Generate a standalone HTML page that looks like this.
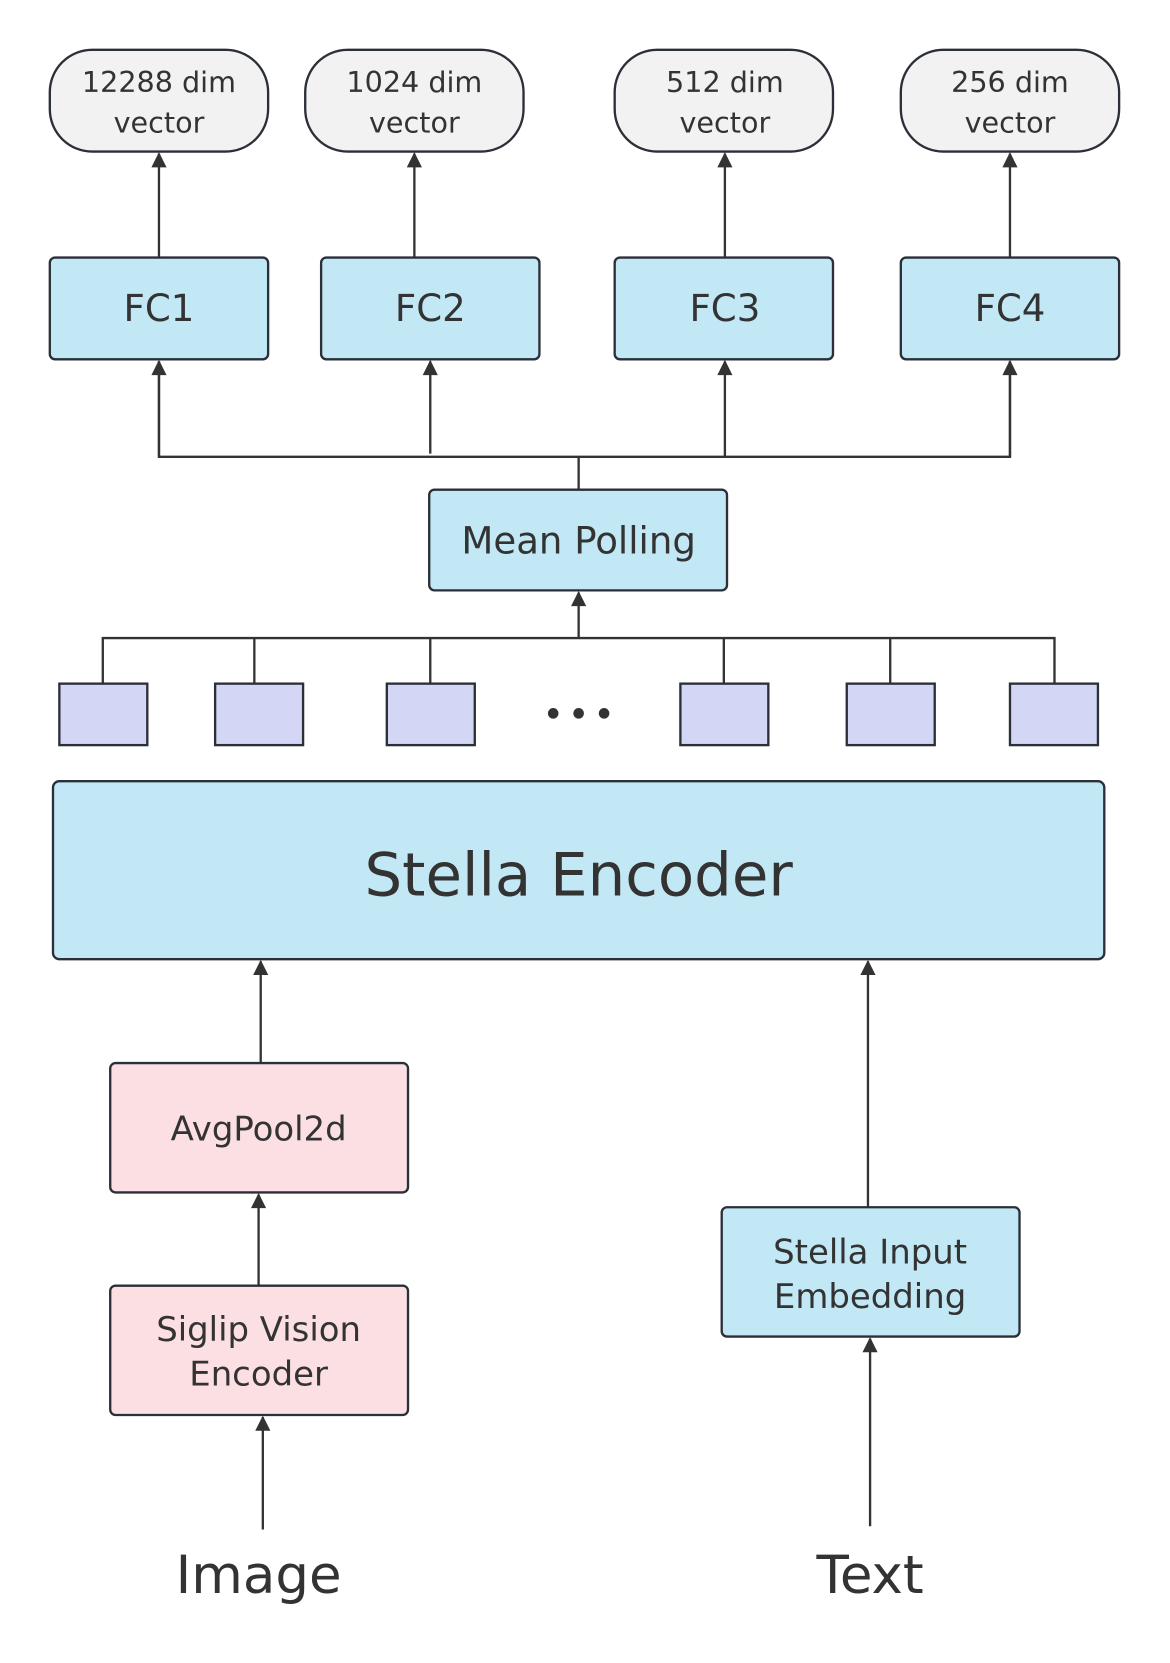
<!DOCTYPE html>
<html><head><meta charset="utf-8"><style>
html,body{margin:0;padding:0;background:#fff;}
svg{display:block;}
text{font-family:"DejaVu Sans","Liberation Sans",sans-serif;fill:#333;text-anchor:middle;}
</style></head><body>
<svg width="1170" height="1663" viewBox="0 0 1104 1569" preserveAspectRatio="none" xmlns="http://www.w3.org/2000/svg">
<defs>
<marker id="a" viewBox="0 0 10 10" refX="9" refY="5" markerWidth="9" markerHeight="6.5" orient="auto"><path d="M0,0L10,5L0,10z" fill="#333"/></marker>
</defs>
<g stroke="#333" stroke-width="2.2" fill="none">
<line x1="150" y1="243" x2="150" y2="145" marker-end="url(#a)"/>
<line x1="391" y1="243" x2="391" y2="145" marker-end="url(#a)"/>
<line x1="684" y1="243" x2="684" y2="145" marker-end="url(#a)"/>
<line x1="953" y1="243" x2="953" y2="145" marker-end="url(#a)"/>
<polyline points="150,341 150,431 953,431 953,341"/>
<line x1="150" y1="431" x2="150" y2="341" marker-end="url(#a)"/>
<line x1="953" y1="431" x2="953" y2="341" marker-end="url(#a)"/>
<line x1="406" y1="428" x2="406" y2="341" marker-end="url(#a)"/>
<line x1="684" y1="431" x2="684" y2="341" marker-end="url(#a)"/>
<line x1="546" y1="431" x2="546" y2="462"/>
<polyline points="97,645 97,602 995,602 995,645"/>
<line x1="240" y1="602" x2="240" y2="645"/>
<line x1="406" y1="602" x2="406" y2="645"/>
<line x1="683" y1="602" x2="683" y2="645"/>
<line x1="840" y1="602" x2="840" y2="645"/>
<line x1="546" y1="602" x2="546" y2="559" marker-end="url(#a)"/>
<line x1="246" y1="1003" x2="246" y2="907" marker-end="url(#a)"/>
<line x1="819" y1="1139" x2="819" y2="907" marker-end="url(#a)"/>
<line x1="244" y1="1213" x2="244" y2="1127" marker-end="url(#a)"/>
<line x1="248" y1="1443" x2="248" y2="1337" marker-end="url(#a)"/>
<line x1="821" y1="1440" x2="821" y2="1263" marker-end="url(#a)"/>
</g>
<g stroke="#2a2f38" stroke-width="2.2">
<rect x="47" y="47" width="206" height="96" rx="40" fill="#f2f2f2"/>
<rect x="288" y="47" width="206" height="96" rx="40" fill="#f2f2f2"/>
<rect x="580" y="47" width="206" height="96" rx="40" fill="#f2f2f2"/>
<rect x="850" y="47" width="206" height="96" rx="40" fill="#f2f2f2"/>
<rect x="47" y="243" width="206" height="96" rx="5" fill="#c2e7f5"/>
<rect x="303" y="243" width="206" height="96" rx="5" fill="#c2e7f5"/>
<rect x="580" y="243" width="206" height="96" rx="5" fill="#c2e7f5"/>
<rect x="850" y="243" width="206" height="96" rx="5" fill="#c2e7f5"/>
<rect x="405" y="462" width="281" height="95" rx="5" fill="#c2e7f5"/>
<rect x="56" y="645" width="83" height="58" fill="#d3d6f5"/>
<rect x="203" y="645" width="83" height="58" fill="#d3d6f5"/>
<rect x="365" y="645" width="83" height="58" fill="#d3d6f5"/>
<rect x="642" y="645" width="83" height="58" fill="#d3d6f5"/>
<rect x="799" y="645" width="83" height="58" fill="#d3d6f5"/>
<rect x="953" y="645" width="83" height="58" fill="#d3d6f5"/>
<rect x="50" y="737" width="992" height="168" rx="6" fill="#c2e7f5"/>
<rect x="104" y="1003" width="281" height="122" rx="5" fill="#fbdfe3"/>
<rect x="104" y="1213" width="281" height="122" rx="5" fill="#fbdfe3"/>
<rect x="681" y="1139" width="281" height="122" rx="5" fill="#c2e7f5"/>
</g>
<g fill="#333"><circle cx="522" cy="673" r="5"/><circle cx="546" cy="673" r="5"/><circle cx="570" cy="673" r="5"/></g>
<g font-size="27">
<text x="150" y="87">12288 dim</text><text x="150" y="125">vector</text>
<text x="391" y="87">1024 dim</text><text x="391" y="125">vector</text>
<text x="684" y="87">512 dim</text><text x="684" y="125">vector</text>
<text x="953" y="87">256 dim</text><text x="953" y="125">vector</text>
</g>
<g font-size="35">
<text x="150" y="303">FC1</text><text x="406" y="303">FC2</text><text x="684" y="303">FC3</text><text x="953" y="303">FC4</text>
<text x="546" y="522">Mean Polling</text>
</g>
<text x="546" y="845" font-size="56">Stella Encoder</text>
<g font-size="32">
<text x="244" y="1076">AvgPool2d</text>
<text x="244" y="1265">Siglip Vision</text><text x="244" y="1307">Encoder</text>
<text x="821" y="1192">Stella Input</text><text x="821" y="1234">Embedding</text>
</g>
<g font-size="50">
<text x="244" y="1503">Image</text><text x="821" y="1503">Text</text>
</g>
</svg>
</body></html>
